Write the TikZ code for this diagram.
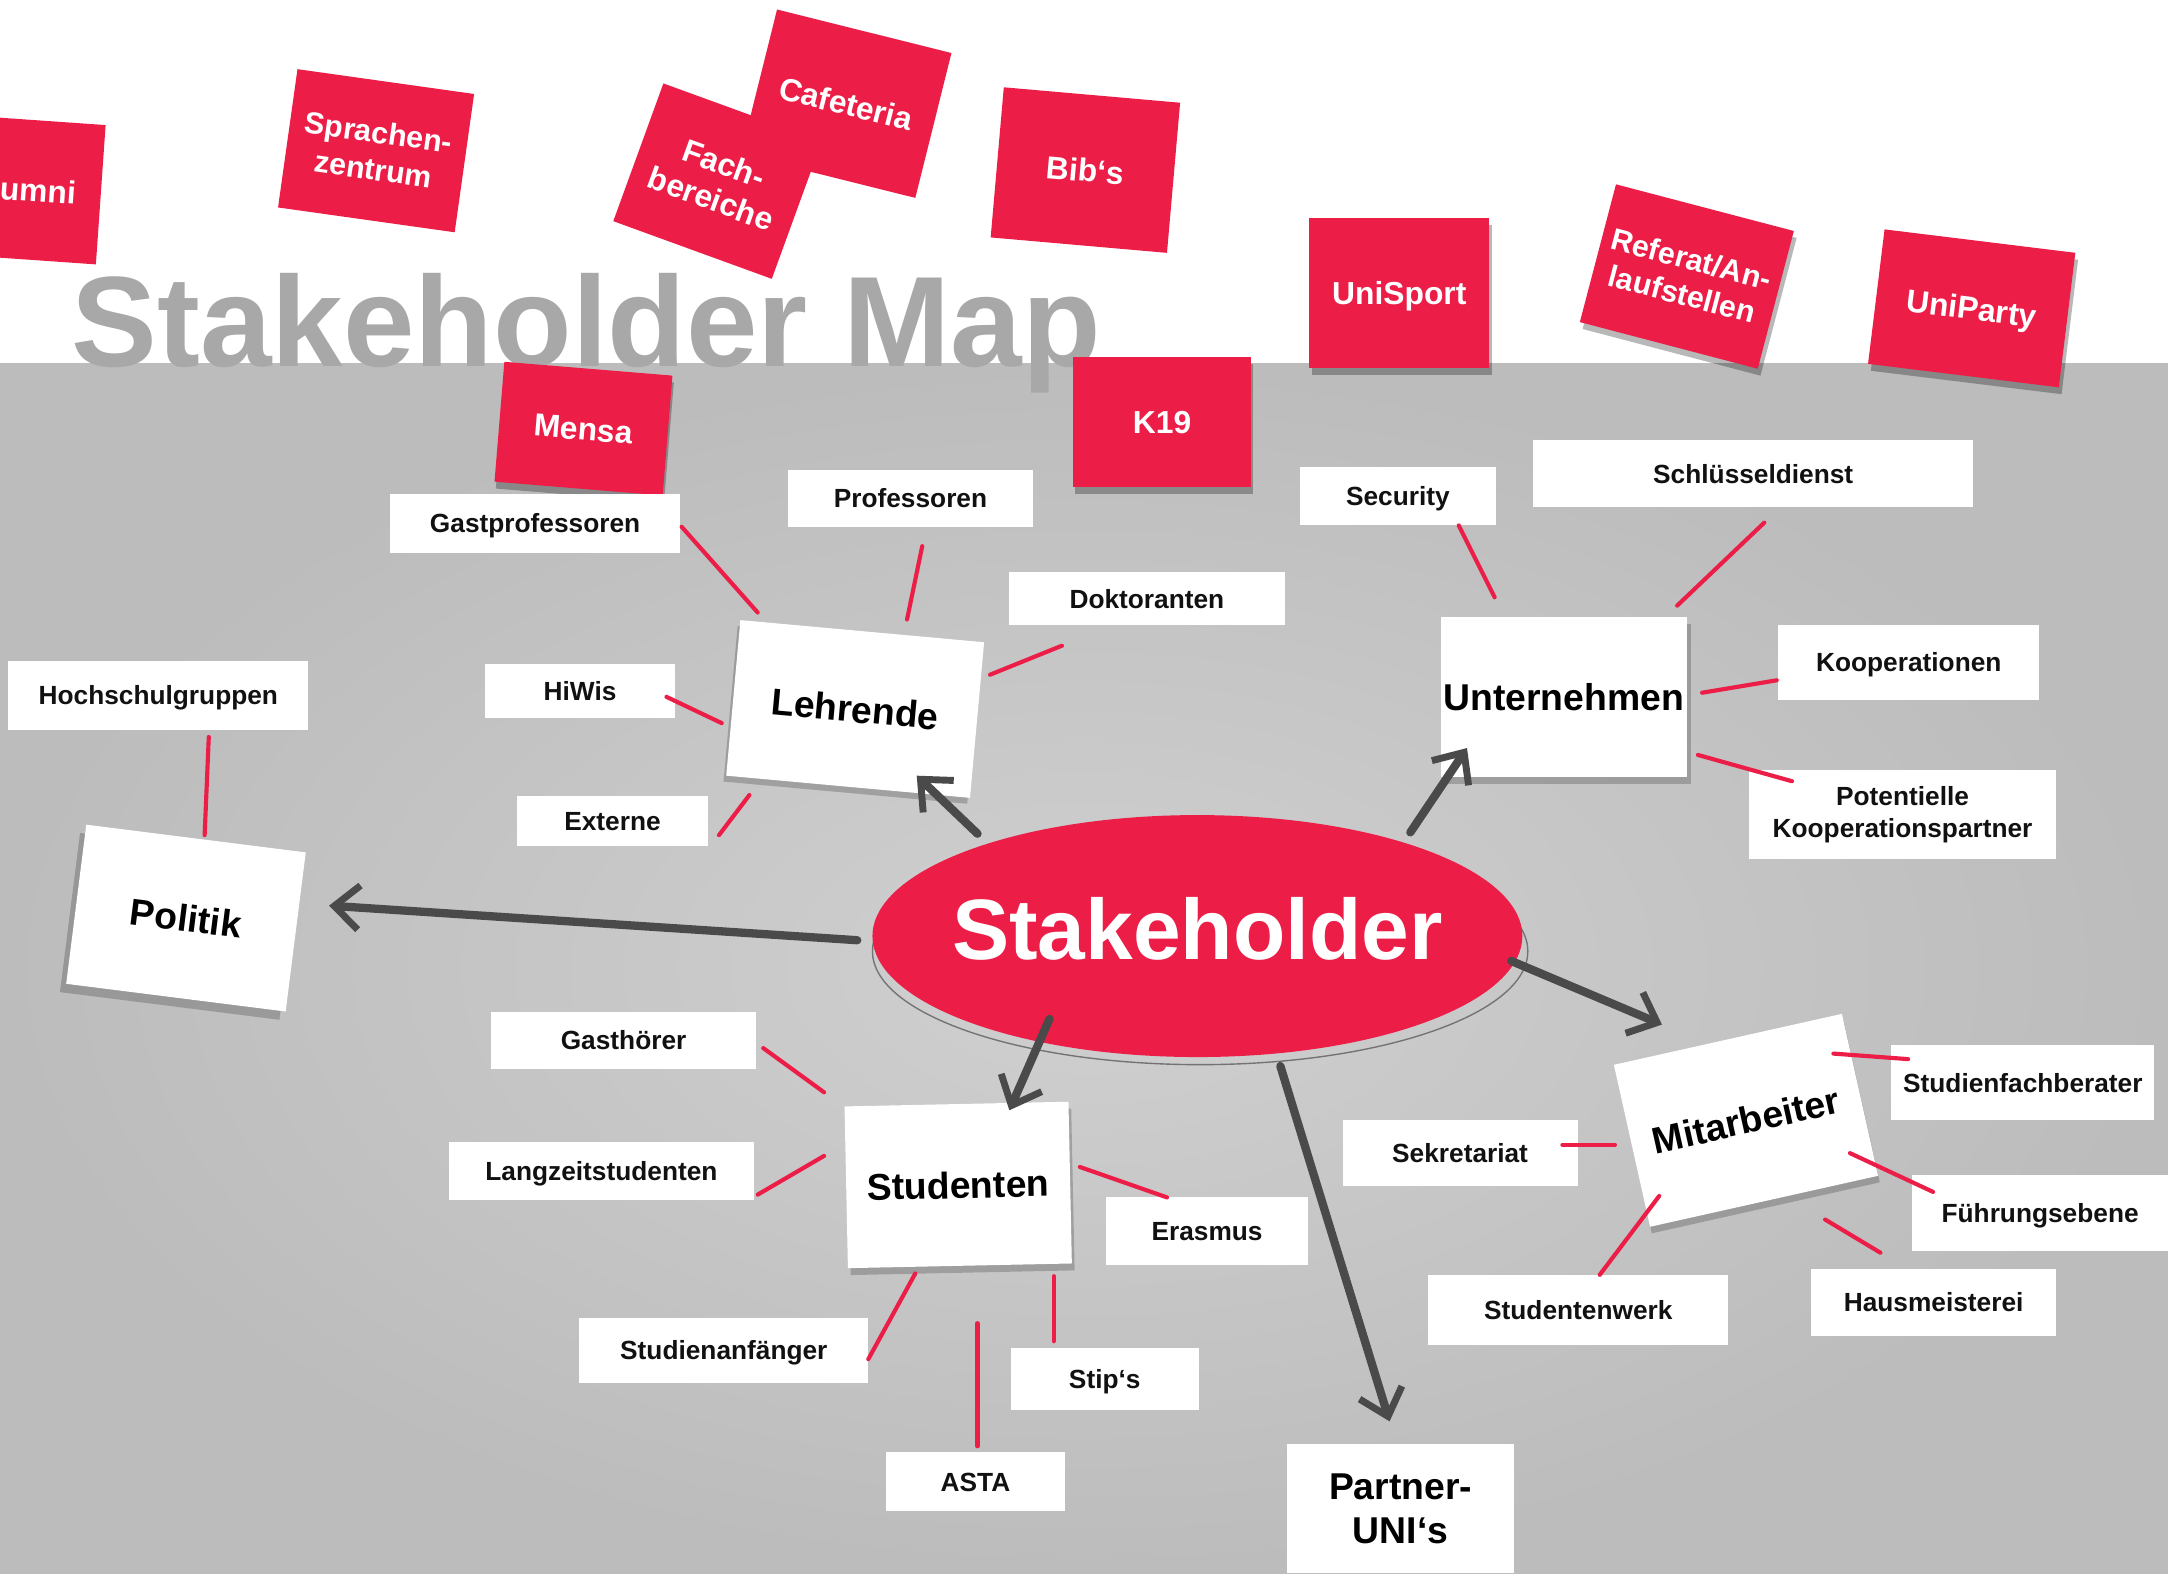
\documentclass[tikz,border=0pt]{standalone}
\usepackage{fontspec}
\setmainfont{Liberation Sans}
\usetikzlibrary{arrows.meta,shapes.geometric}
\definecolor{notered}{RGB}{236,30,72}
\definecolor{boardin}{RGB}{208,208,208}
\definecolor{boardout}{RGB}{188,188,188}
\definecolor{ink}{RGB}{74,74,74}
\definecolor{titlegray}{RGB}{168,168,168}
\definecolor{lettering}{RGB}{17,17,17}
\begin{document}
\begin{tikzpicture}[x=1pt,y=-1pt,
  every node/.style={inner sep=0pt, outer sep=0pt},
  redtag/.style={fill=notered, text=white, align=center,
    font=\fontsize{23}{27}\selectfont\bfseries},
  tagshadow/.style={fill=black, opacity=0.28},
  whitetag/.style={fill=white, text=lettering, align=center,
    font=\fontsize{19}{23}\selectfont\bfseries},
  card/.style={fill=white, text=black, align=center,
    font=\fontsize{27}{31}\selectfont\bfseries},
  cardshadow/.style={fill=black, opacity=0.2},
  tagline/.style={text height=13.7pt, text depth=0pt},
  redline/.style={text height=16.5pt, text depth=0pt},
  cardline/.style={text height=19.4pt, text depth=0pt},
  tie/.style={draw=notered, line width=3pt, line cap=round},
  flow/.style={draw=ink, line width=6pt, line cap=round,
    -{Straight Barb[length=18pt,width=32pt,line width=5pt]}},
]
\useasboundingbox (0,0) rectangle (1568,1138);

% wall and pin board
\fill[white] (0,0) rectangle (1568,1138);
\shade[inner color=boardin, outer color=boardout] (0,263) rectangle (1568,1138);

% heading
\node[anchor=base west, text=titlegray,
  font=\fontsize{93}{93}\selectfont\bfseries] (title) at (52,265) {Stakeholder Map};

% red notes on the wall
\node[redtag, rotate=-4, minimum width=110pt, minimum height=101pt,
  text width=74pt, align=right] (alumni) at (18,137) {umni};
\node[redtag, rotate=-8, minimum width=129pt, minimum height=101pt,
  font=\fontsize{22}{27}\selectfont\bfseries] (sprachen) at (272,109) {Sprachen-\\zentrum};
\node[redtag, rotate=-14, minimum width=130pt, minimum height=108pt] (cafeteria) at (612,75) {Cafeteria};
\node[redtag, rotate=-20, minimum width=122pt, minimum height=106pt] (fach) at (519,131) {Fach-\\bereiche};
\node[redtag, redline, rotate=-5, minimum width=128pt, minimum height=109pt] (bibs) at (785,123) {Bib‘s};

% red notes reaching onto the board (with shadows)
\node[tagshadow, minimum width=130pt, minimum height=109pt] (unisportsh) at (1014,217) {};
\node[redtag, redline, minimum width=130pt, minimum height=109pt] (unisport) at (1012,212) {UniSport};
\node[tagshadow, rotate=-14.7, minimum width=133pt, minimum height=103pt] (referatsh) at (1222,205) {};
\node[redtag, rotate=-14.7, minimum width=133pt, minimum height=103pt,
  font=\fontsize{22}{26}\selectfont\bfseries] (referat) at (1220,200) {Referat/An-\\laufstellen};
\node[tagshadow, rotate=-7, minimum width=139pt, minimum height=98pt] (unipartysh) at (1428,228) {};
\node[redtag, redline, rotate=-7, minimum width=139pt, minimum height=98pt] (uniparty) at (1426,223) {UniParty};
\node[tagshadow, minimum width=129pt, minimum height=94pt] (k19sh) at (842,310) {};
\node[redtag, redline, minimum width=129pt, minimum height=94pt] (k19) at (840.5,305) {K19};
\node[tagshadow, rotate=-4.7, minimum width=122pt, minimum height=87pt] (mensash) at (423,315) {};
\node[redtag, redline, rotate=-4.7, minimum width=122pt, minimum height=87pt] (mensa) at (422,310) {Mensa};

% pencil outline round the centre
\draw[black!55, line width=1pt] (868,688) ellipse [x radius=237, y radius=82];

% main cards
\node[cardshadow, rotate=-7.2, minimum width=160pt, minimum height=116pt] (politiksh) at (130,670) {};
\node[card, cardline, rotate=-7.2, minimum width=160pt, minimum height=116pt] (politik) at (134.5,664) {Politik};
\node[cardshadow, rotate=-5.2, minimum width=177pt, minimum height=113pt] (lehrendesh) at (616.5,517) {};
\node[card, cardline, rotate=-5.2, minimum width=177pt, minimum height=113pt] (lehrende) at (618.5,512.75) {Lehrende};
\node[cardshadow, minimum width=178pt, minimum height=116pt] (unternehmensh) at (1134,509) {};
\node[card, cardline, minimum width=178pt, minimum height=116pt] (unternehmen) at (1131,504) {Unternehmen};
\node[cardshadow, rotate=1.2, minimum width=162pt, minimum height=117pt] (studentensh) at (695,862) {};
\node[card, cardline, rotate=1.2, minimum width=162pt, minimum height=117pt] (studenten) at (693,857) {Studenten};
\node[cardshadow, rotate=12.6, minimum width=169pt, minimum height=120pt] (mitarbeitersh) at (1264,815) {};
\node[card, cardline, rotate=12.6, minimum width=169pt, minimum height=120pt] (mitarbeiter) at (1262.75,810.25) {Mitarbeiter};
\node[card, minimum width=164pt, minimum height=94pt,
  font=\fontsize{27}{32}\selectfont\bfseries] (partner) at (1013,1091) {Partner-\\UNI‘s};

% centre
\node[ellipse, fill=notered, minimum width=470pt, minimum height=175pt] (stake) at (866,677) {};
\node[text=white, font=\fontsize{62}{62}\selectfont\bfseries] (stakelabel) at (866,672) {Stakeholder};

% white labels
\node[whitetag, tagline, minimum width=210pt, minimum height=43pt] (gastprof) at (387,378.5) {Gastprofessoren};
\node[whitetag, tagline, minimum width=177pt, minimum height=41pt] (prof) at (658.5,360.5) {Professoren};
\node[whitetag, tagline, minimum width=199pt, minimum height=38pt] (doktor) at (829.5,433) {Doktoranten};
\node[whitetag, tagline, minimum width=142pt, minimum height=42pt] (security) at (1011,359) {Security};
\node[whitetag, tagline, minimum width=318pt, minimum height=49pt] (schluessel) at (1268,342.5) {Schlüsseldienst};
\node[whitetag, tagline, minimum width=217pt, minimum height=50pt] (hochschul) at (114.5,503) {Hochschulgruppen};
\node[whitetag, tagline, minimum width=137pt, minimum height=39pt] (hiwis) at (419.5,499.5) {HiWis};
\node[whitetag, tagline, minimum width=138pt, minimum height=36pt] (externe) at (443,594) {Externe};
\node[whitetag, tagline, minimum width=189pt, minimum height=54pt] (koop) at (1380.5,479) {Kooperationen};
\node[whitetag, minimum width=222pt, minimum height=64pt] (potkoop) at (1376,589) {Potentielle\\Kooperationspartner};
\node[whitetag, tagline, minimum width=192pt, minimum height=41pt] (gasthoerer) at (451,752.5) {Gasthörer};
\node[whitetag, tagline, minimum width=220pt, minimum height=42pt] (langzeit) at (435,847) {Langzeitstudenten};
\node[whitetag, tagline, minimum width=146pt, minimum height=49pt] (erasmus) at (873,890.5) {Erasmus};
\node[whitetag, tagline, minimum width=209pt, minimum height=47pt] (anfaenger) at (523.5,976.5) {Studienanfänger};
\node[whitetag, tagline, minimum width=136pt, minimum height=45pt] (stips) at (799,997.5) {Stip‘s};
\node[whitetag, tagline, minimum width=129pt, minimum height=43pt] (asta) at (705.5,1071.5) {ASTA};
\node[whitetag, tagline, minimum width=170pt, minimum height=48pt] (sekretariat) at (1056,834) {Sekretariat};
\node[whitetag, tagline, minimum width=217pt, minimum height=51pt] (studwerk) at (1141.5,947.5) {Studentenwerk};
\node[whitetag, tagline, minimum width=177pt, minimum height=48pt] (hausmeister) at (1398.5,942) {Hausmeisterei};
\node[whitetag, tagline, minimum width=190pt, minimum height=54pt] (fachberater) at (1463,783) {Studienfachberater};
\node[whitetag, tagline, minimum width=185pt, minimum height=55pt] (fuehrung) at (1475.5,877.5) {Führungsebene};

% red ties between labels and cards
\coordinate (gastprofT) at (493,381);   \coordinate (gastprofL) at (548,443);
\coordinate (profT) at (667,395);       \coordinate (profL) at (656,448);
\coordinate (doktorT) at (768,467);     \coordinate (doktorL) at (716,488);
\coordinate (hiwisT) at (482,504);      \coordinate (hiwisL) at (522,523);
\coordinate (externeT) at (542,575);    \coordinate (externeL) at (520,604);
\coordinate (hochschulT) at (151,533);  \coordinate (hochschulP) at (148,604);
\coordinate (securityT) at (1055,380);  \coordinate (securityU) at (1081,432);
\coordinate (schluesselT) at (1276,378);\coordinate (schluesselU) at (1213,438);
\coordinate (koopT) at (1285,492);      \coordinate (koopU) at (1231,501);
\coordinate (potkoopT) at (1296,565);   \coordinate (potkoopU) at (1228,546);
\coordinate (gasthoererT) at (552,758); \coordinate (gasthoererS) at (596,790);
\coordinate (langzeitT) at (548,864);   \coordinate (langzeitS) at (596,836);
\coordinate (erasmusT) at (844,866);    \coordinate (erasmusS) at (781,844);
\coordinate (anfaengerT) at (628,983);  \coordinate (anfaengerS) at (662,921);
\coordinate (astaT) at (707,1046);      \coordinate (astaS) at (707,957);
\coordinate (stipsT) at (762,970);      \coordinate (stipsS) at (762,923);
\coordinate (sekretariatT) at (1130,828); \coordinate (sekretariatM) at (1168,828);
\coordinate (studwerkT) at (1157,922);  \coordinate (studwerkM) at (1200,865);
\coordinate (fachberaterT) at (1380,766); \coordinate (fachberaterM) at (1326,762);
\coordinate (fuehrungT) at (1398,862);  \coordinate (fuehrungM) at (1338,834);
\coordinate (hausmeisterT) at (1360,906); \coordinate (hausmeisterM) at (1320,882);

\draw[tie] (gastprofT) -- (gastprofL);
\draw[tie] (profT) -- (profL);
\draw[tie] (doktorT) -- (doktorL);
\draw[tie] (hiwisT) -- (hiwisL);
\draw[tie] (externeT) -- (externeL);
\draw[tie] (hochschulT) -- (hochschulP);
\draw[tie] (securityT) -- (securityU);
\draw[tie] (schluesselT) -- (schluesselU);
\draw[tie] (koopT) -- (koopU);
\draw[tie] (potkoopT) -- (potkoopU);
\draw[tie] (gasthoererT) -- (gasthoererS);
\draw[tie] (langzeitT) -- (langzeitS);
\draw[tie] (erasmusT) -- (erasmusS);
\draw[tie] (anfaengerT) -- (anfaengerS);
\draw[tie] (astaT) -- (astaS);
\draw[tie] (stipsT) -- (stipsS);
\draw[tie] (sekretariatT) -- (sekretariatM);
\draw[tie] (studwerkT) -- (studwerkM);
\draw[tie] (fachberaterT) -- (fachberaterM);
\draw[tie] (fuehrungT) -- (fuehrungM);
\draw[tie] (hausmeisterT) -- (hausmeisterM);

% arrows from the centre to the groups
\coordinate (toLehrende) at (707,603);   \coordinate (atLehrende) at (663,561);
\coordinate (toUnternehmen) at (1020,602); \coordinate (atUnternehmen) at (1061,541);
\coordinate (toPolitik) at (620,680);    \coordinate (atPolitik) at (238,655);
\coordinate (toMitarbeiter) at (1093,695); \coordinate (atMitarbeiter) at (1202,741);
\coordinate (toStudenten) at (759,737);  \coordinate (atStudenten) at (730,803);
\coordinate (toPartner) at (926,771);    \coordinate (atPartner) at (1005,1028);

\draw[flow] (toLehrende) -- (atLehrende);
\draw[flow] (toUnternehmen) -- (atUnternehmen);
\draw[flow] (toPolitik) -- (atPolitik);
\draw[flow] (toMitarbeiter) -- (atMitarbeiter);
\draw[flow] (toStudenten) -- (atStudenten);
\draw[flow] (toPartner) -- (atPartner);
\end{tikzpicture}
\end{document}
